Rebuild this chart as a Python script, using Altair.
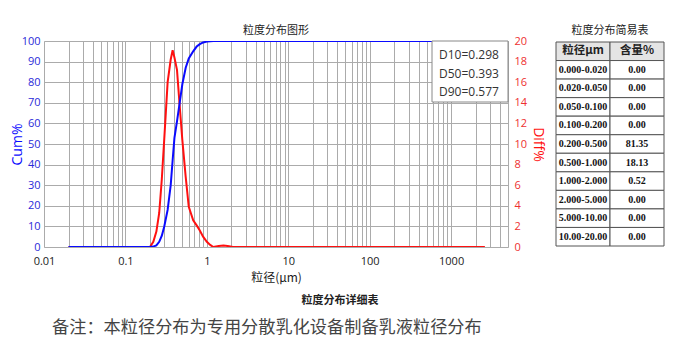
import altair as alt
import pandas as pd

# ---------------- data ----------------
sizes = [0.02, 0.05, 0.1, 0.15, 0.2, 0.22, 0.24, 0.26, 0.28, 0.30, 0.33, 0.36, 0.38, 0.40,
         0.43, 0.46, 0.50, 0.55, 0.60, 0.68, 0.75, 0.82, 0.90, 1.0, 1.1, 1.2, 1.4, 1.6,
         1.8, 2.1, 3.0, 10, 100, 1000, 2600]
cum = [0, 0, 0, 0, 0, 0.2, 0.8, 2.5, 5.5, 10, 18, 30, 42, 53,
       61, 69, 79, 87, 91.5, 95, 97.3, 98.5, 99.3, 99.7, 99.9, 100, 100, 100,
       100, 100, 100, 100, 100, 100, 100]
diff = [0, 0, 0, 0, 0, 0.5, 1.5, 3.3, 6.6, 10.5, 16.0, 18.2, 19.1, 18.4,
        17.2, 14.1, 10.4, 6.8, 3.9, 2.6, 2.1, 1.6, 1.0, 0.5, 0.2, 0.0, 0.1, 0.15,
        0.1, 0.0, 0, 0, 0, 0, 0]

d_labels = ["D10", "D50", "D90"]
d_values = [0.298, 0.393, 0.577]

table_header = ["粒径μm", "含量%"]
table_ranges = ["0.000-0.020", "0.020-0.050", "0.050-0.100", "0.100-0.200", "0.200-0.500",
                "0.500-1.000", "1.000-2.000", "2.000-5.000", "5.000-10.00", "10.00-20.00"]
table_content = ["0.00", "0.00", "0.00", "0.00", "81.35", "18.13", "0.52", "0.00", "0.00", "0.00"]

chart_title = "粒度分布图形"
table_title = "粒度分布简易表"
detail_title = "粒度分布详细表"
note = "备注：本粒径分布为专用分散乳化设备制备乳液粒径分布"

# ---------------- frames ----------------
curve_df = pd.DataFrame({"size": sizes, "cum": cum, "diff": diff})

rows = []
for c, h in enumerate(table_header):
    rows.append({"row": 0, "col": c, "txt": h})
for i, (r, v) in enumerate(zip(table_ranges, table_content), start=1):
    rows.append({"row": i, "col": 0, "txt": r})
    rows.append({"row": i, "col": 1, "txt": v})
table_df = pd.DataFrame(rows)

one = pd.DataFrame({"a": [0]})

W, H = 464, 206
BLUE = "#0a0aff"
RED = "#ff1010"
SANS = "Open Sans"
CJK = "Noto Sans CJK SC"

grid_vals = [round(m * 10 ** e, 4) for e in range(-2, 4) for m in range(1, 10)]
grid_vals = [v for v in grid_vals if v <= 5000]

x_enc = alt.X(
    "size:Q",
    scale=alt.Scale(type="log", domain=[0.01, 5000]),
    axis=alt.Axis(
        values=grid_vals,
        format="~g",
        labelExpr="indexof([0.01,0.1,1,10,100,1000], datum.value) >= 0 ? datum.label : ''",
        labelOverlap=False,
        labelFlush=False,
        grid=True,
        gridColor="#ababab",
        ticks=False,
        domain=False,
        labelFont=SANS,
        labelFontSize=11,
        labelColor="#222",
        labelPadding=8,
        title="粒径(μm)",
        titleFont=CJK,
        titleFontSize=12,
        titleFontWeight="normal",
        titleColor="#222",
        titlePadding=6,
    ),
)

cum_line = alt.Chart(curve_df).mark_line(color=BLUE, strokeWidth=2, clip=True).encode(
    x=x_enc,
    y=alt.Y(
        "cum:Q",
        scale=alt.Scale(domain=[0, 100]),
        axis=alt.Axis(
            orient="left",
            values=list(range(0, 101, 10)),
            grid=True,
            gridColor="#ababab",
            ticks=False,
            domain=False,
            labelColor="#2a2ad8",
            labelFont=SANS,
            labelFontSize=11,
            labelPadding=4,
            title="Cum%",
            titleColor=BLUE,
            titleFont=SANS,
            titleFontSize=14,
            titleFontWeight="normal",
            titleX=-27,
            titleY=103,
            titleBaseline="middle",
            titleAngle=270,
        ),
    ),
)

diff_line = alt.Chart(curve_df).mark_line(color=RED, strokeWidth=2, clip=True).encode(
    x=x_enc,
    y=alt.Y(
        "diff:Q",
        scale=alt.Scale(domain=[0, 20]),
        axis=alt.Axis(
            orient="right",
            values=list(range(0, 21, 2)),
            grid=False,
            ticks=False,
            domain=False,
            labelColor="#ee3030",
            labelFont=SANS,
            labelFontSize=11,
            labelPadding=6,
            title="Diff%",
            titleColor=RED,
            titleFont=SANS,
            titleFontSize=14,
            titleFontWeight="normal",
            titleX=29,
            titleY=103,
            titleBaseline="middle",
            titleAngle=90,
        ),
    ),
)

curves = alt.layer(diff_line, cum_line).resolve_scale(y="independent")

# D-value box
box = alt.Chart(one).mark_rect(fill="white", stroke="#888", strokeWidth=1, opacity=1).encode(
    x=alt.value(388), x2=alt.value(464), y=alt.value(0), y2=alt.value(61)
)
d_text = [f"{l}={v:.3f}" for l, v in zip(d_labels, d_values)]
box_text = alt.Chart(one).mark_text(
    align="left", baseline="middle", font=SANS, fontSize=12, color="#333", lineHeight=18.5
).encode(x=alt.value(395), y=alt.value(14), text=alt.value(d_text))

# table
tx = alt.X("col:O", scale=alt.Scale(range=[512, 620], paddingInner=0, paddingOuter=0), axis=None)
ty = alt.Y("row:O", scale=alt.Scale(range=[1, 205], paddingInner=0, paddingOuter=0), axis=None)
cells = alt.Chart(table_df).mark_rect(stroke="#555", strokeWidth=1).encode(
    x=tx, y=ty,
    fill=alt.condition("datum.row == 0", alt.value("#e4e4e4"), alt.value("white")),
)
hdr_text = alt.Chart(table_df).transform_filter("datum.row == 0").mark_text(
    font=CJK, fontSize=11.5, fontWeight="bold", color="#222"
).encode(x=tx, y=ty, text="txt:N")
body_text = alt.Chart(table_df).transform_filter("datum.row > 0").mark_text(
    font="Liberation Serif", fontSize=10, fontWeight="bold", color="#111"
).encode(x=tx, y=ty, text="txt:N")
table = alt.layer(cells, hdr_text, body_text).resolve_scale(x="shared", y="shared")

# free texts
t_title = alt.Chart(one).mark_text(font=CJK, fontSize=11, color="#222").encode(
    x=alt.value(232), y=alt.value(-10), text=alt.value(chart_title))
t_table = alt.Chart(one).mark_text(font=CJK, fontSize=11, color="#222").encode(
    x=alt.value(566), y=alt.value(-10), text=alt.value(table_title))
t_detail = alt.Chart(one).mark_text(font=CJK, fontSize=11, fontWeight="bold", color="#222").encode(
    x=alt.value(296), y=alt.value(260), text=alt.value(detail_title))
t_note = alt.Chart(one).mark_text(font=CJK, fontSize=17.2, color="#444", align="left").encode(
    x=alt.value(8), y=alt.value(287), text=alt.value(note))

chart = alt.layer(
    curves, box, box_text, table, t_title, t_table, t_detail, t_note
).resolve_scale(x="independent", y="independent").properties(
    width=W,
    height=H,
    autosize=alt.AutoSizeParams(type="none"),
    padding={"left": 44, "top": 41, "right": 169, "bottom": 106},
).configure_view(stroke="#8a8a8a", strokeWidth=1).configure(background="white")

chart.save("out.html", embed_options={"renderer": "svg", "actions": False})
